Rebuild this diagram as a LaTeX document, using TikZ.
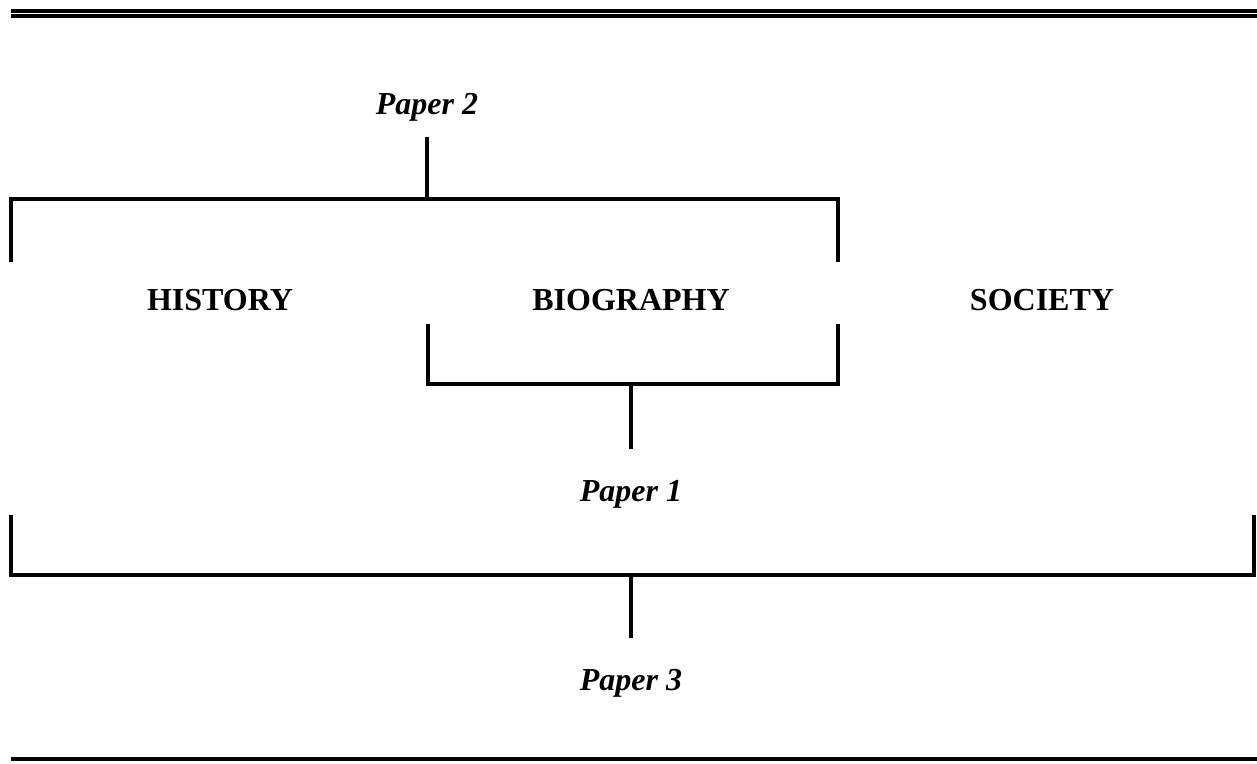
\documentclass[tikz,border=0pt]{standalone}
\usepackage{fontspec}
\setmainfont{Liberation Serif}
\tikzset{
  rule/.style={line width=3.2pt, line cap=butt},
  hrule/.style={line width=4pt, line cap=butt},
  cat/.style={font=\fontsize{32}{36}\selectfont\bfseries, inner sep=0pt},
  paper/.style={font=\fontsize{32}{36}\selectfont\bfseries\itshape, inner sep=0pt},
}
\begin{document}
\begin{tikzpicture}[x=1pt,y=-1pt]
\useasboundingbox (0,0) rectangle (1257,763);
% top double rule and bottom rule
\coordinate (t1l) at (11,10.5); \coordinate (t1r) at (1257,10.5);
\coordinate (t2l) at (11,15.8); \coordinate (t2r) at (1257,15.8);
\coordinate (bl) at (11,759); \coordinate (br) at (1257,759);
\draw[hrule] (t1l) -- (t1r);
\draw[hrule] (t2l) -- (t2r);
\draw[hrule] (bl) -- (br);
% labels
\node[paper] (p2) at (427,107) {Paper 2};
\node[cat] (hist) at (220,300) {HISTORY};
\node[cat] (bio) at (631,300) {BIOGRAPHY};
\node[cat] (soc) at (1042,300) {SOCIETY};
\node[paper] (p1) at (631,494) {Paper 1};
\node[paper] (p3) at (631,683) {Paper 3};
% bracket coordinates
\coordinate (a1) at (427,137); \coordinate (a2) at (427,199);
\coordinate (a3) at (11,262); \coordinate (a4) at (11,199);
\coordinate (a5) at (838,199); \coordinate (a6) at (838,262);
\coordinate (b1) at (428,324); \coordinate (b2) at (428,384);
\coordinate (b3) at (838,384); \coordinate (b4) at (838,324);
\coordinate (b5) at (631,384); \coordinate (b6) at (631,449);
\coordinate (c1) at (11,515); \coordinate (c2) at (11,575);
\coordinate (c3) at (1254,575); \coordinate (c4) at (1254,515);
\coordinate (c5) at (631,575); \coordinate (c6) at (631,638);
% Paper 2 bracket
\draw[rule] (a1) -- (a2);
\draw[rule] (a3) -- (a4) -- (a5) -- (a6);
% Paper 1 bracket
\draw[rule] (b1) -- (b2) -- (b3) -- (b4);
\draw[rule] (b5) -- (b6);
% Paper 3 bracket
\draw[rule] (c1) -- (c2) -- (c3) -- (c4);
\draw[rule] (c5) -- (c6);
\end{tikzpicture}
\end{document}
